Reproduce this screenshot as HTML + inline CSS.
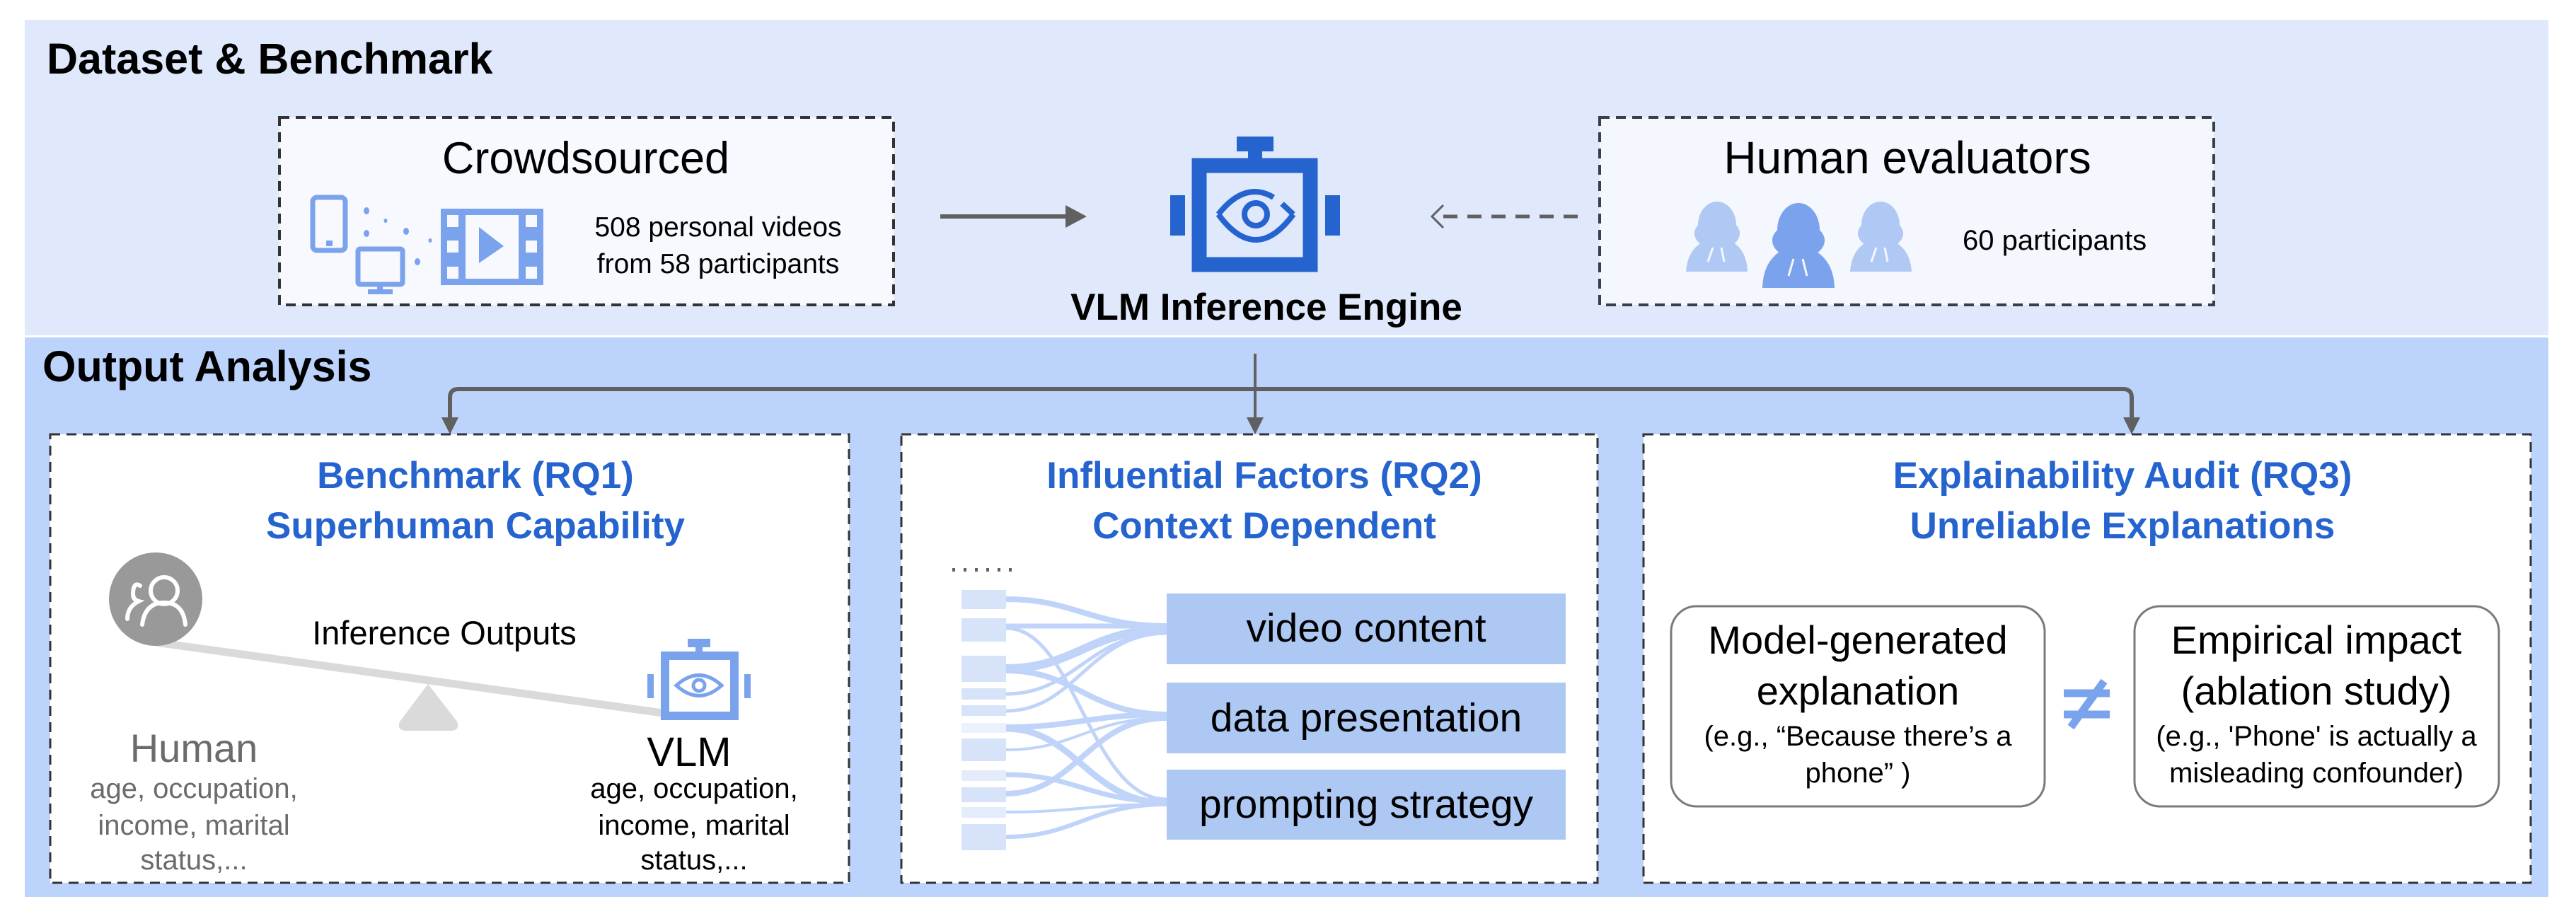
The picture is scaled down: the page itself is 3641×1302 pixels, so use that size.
<!DOCTYPE html>
<html><head><meta charset="utf-8"><style>
html,body{margin:0;padding:0;background:#fff;}
svg{display:block;}
text{font-family:"Liberation Sans","Noto Sans CJK SC",sans-serif;}
</style></head><body>
<svg width="3641" height="1302" viewBox="0 0 3641 1302" xmlns="http://www.w3.org/2000/svg">
<!-- bands -->
<rect x="35" y="28" width="3567" height="446" fill="#dfe9fb"/>
<rect x="35" y="477" width="3567" height="791" fill="#bcd3fb"/>
<text x="66" y="104" font-size="61" font-weight="bold" fill="#000">Dataset &amp; Benchmark</text>
<text x="60" y="539" font-size="61" font-weight="bold" fill="#000">Output Analysis</text>

<!-- crowdsourced box -->
<rect x="395" y="166" width="868" height="265" fill="#f7f9fe" stroke="#333" stroke-width="4" stroke-dasharray="14,9"/>
<text x="828" y="245" font-size="63" text-anchor="middle" fill="#000">Crowdsourced</text>
<text x="1015" y="334" font-size="39" text-anchor="middle" fill="#000">508 personal videos</text>
<text x="1015" y="386" font-size="39" text-anchor="middle" fill="#000">from 58 participants</text>
<!-- phone -->
<rect x="442" y="279" width="46" height="75" rx="6" fill="none" stroke="#7ba3ed" stroke-width="7"/>
<rect x="461" y="340" width="9" height="8" fill="#7ba3ed"/>
<!-- monitor -->
<rect x="506" y="352" width="63" height="50" rx="3" fill="none" stroke="#7ba3ed" stroke-width="7"/>
<rect x="533" y="402" width="8" height="8" fill="#7ba3ed"/>
<rect x="520" y="409" width="35" height="7" fill="#7ba3ed"/>
<g fill="#7ba3ed"><ellipse cx="518" cy="298" rx="4" ry="5"/><ellipse cx="545" cy="312" rx="2.5" ry="3"/><ellipse cx="518" cy="330" rx="4" ry="5"/><ellipse cx="574" cy="327" rx="4" ry="5"/><ellipse cx="608" cy="340" rx="2.5" ry="3"/><ellipse cx="590" cy="370" rx="4" ry="5"/></g>
<!-- film -->
<rect x="623" y="295" width="145" height="108" fill="#7ba3ed"/>
<rect x="658" y="304" width="75" height="90" fill="#f7f9fe"/>
<g fill="#f7f9fe"><rect x="632" y="304" width="16" height="17"/><rect x="632" y="340" width="16" height="17"/><rect x="632" y="377" width="16" height="17"/><rect x="743" y="304" width="16" height="17"/><rect x="743" y="340" width="16" height="17"/><rect x="743" y="377" width="16" height="17"/></g>
<polygon points="677,321 677,372 712,348" fill="#7ba3ed"/>

<!-- arrow crowdsourced->engine -->
<line x1="1329" y1="306" x2="1515" y2="306" stroke="#606060" stroke-width="6"/>
<polygon points="1506,290 1536,306 1506,322" fill="#606060"/>

<!-- engine icon -->
<rect x="1748" y="193" width="52" height="21" fill="#2563cf"/>
<rect x="1764" y="213" width="20" height="12" fill="#2563cf"/>
<rect x="1695" y="234" width="157" height="140" fill="none" stroke="#2563cf" stroke-width="21"/>
<rect x="1654" y="276" width="21" height="57" fill="#2563cf"/>
<rect x="1873" y="276" width="21" height="57" fill="#2563cf"/>
<g fill="none" stroke="#2563cf" stroke-width="8">
<path d="M1722,303 Q1760,255 1800,279"/>
<path d="M1812,288 L1828,303"/>
<path d="M1722,303 Q1775,375 1828,303"/>
<circle cx="1775" cy="303" r="16"/>
</g>
<text x="1790" y="452" font-size="53" font-weight="bold" text-anchor="middle" fill="#000">VLM Inference Engine</text>

<!-- dashed arrow -->
<line x1="2230" y1="306" x2="2030" y2="306" stroke="#606060" stroke-width="5" stroke-dasharray="20,14"/>
<polyline points="2040,290 2024,306 2040,322" fill="none" stroke="#606060" stroke-width="3"/>

<!-- human evaluators box -->
<rect x="2261" y="166" width="868" height="265" fill="#f4f7fd" stroke="#3a3f47" stroke-width="4" stroke-dasharray="14,9"/>
<text x="2696" y="245" font-size="64" text-anchor="middle" fill="#000">Human evaluators</text>
<text x="2774" y="353" font-size="40" fill="#000">60 participants</text>
<g>
<g fill="#b0c9f4"><ellipse cx="2427" cy="318" rx="27" ry="33"/><ellipse cx="2427" cy="330" rx="32" ry="22"/><path d="M2383,384 Q2385,355 2405,343 L2450,343 Q2469,355 2470,384 Z"/></g>
<g fill="#7ba3ed"><ellipse cx="2542" cy="325" rx="30" ry="38"/><ellipse cx="2542" cy="340" rx="37" ry="25"/><path d="M2491,407 Q2492,372 2515,356 L2568,356 Q2592,372 2593,407 Z"/></g>
<g fill="#b0c9f4"><ellipse cx="2658" cy="318" rx="27" ry="33"/><ellipse cx="2658" cy="330" rx="32" ry="22"/><path d="M2615,384 Q2617,355 2637,343 L2680,343 Q2700,355 2702,384 Z"/></g>
<g stroke="#f4f7fd" stroke-width="3" fill="none"><path d="M2421,350 L2414,370 M2433,350 L2437,370"/><path d="M2535,366 L2528,390 M2548,366 L2554,390"/><path d="M2652,350 L2645,370 M2664,350 L2668,370"/></g>
</g>

<!-- connectors -->
<path d="M1774,500 L1774,595" stroke="#606060" stroke-width="4" fill="none"/>
<polygon points="1762,590 1786,590 1774,614" fill="#606060"/>
<path d="M636,598 L636,562 Q636,550 648,550 L3001,550 Q3013,550 3013,562 L3013,598" stroke="#606060" stroke-width="6" fill="none"/>
<polygon points="624,590 648,590 636,614" fill="#606060"/>
<polygon points="3001,590 3025,590 3013,614" fill="#606060"/>

<!-- panels -->
<rect x="71" y="614" width="1129" height="634" fill="#fff" stroke="#333" stroke-width="3" stroke-dasharray="14,9"/>
<rect x="1274" y="614" width="984" height="634" fill="#fff" stroke="#333" stroke-width="3" stroke-dasharray="14,9"/>
<rect x="2323" y="614" width="1254" height="634" fill="#fff" stroke="#333" stroke-width="3" stroke-dasharray="14,9"/>

<g fill="#2563cf" font-weight="bold" font-size="53" text-anchor="middle">
<text x="672" y="690">Benchmark (RQ1)</text>
<text x="672" y="761">Superhuman Capability</text>
<text x="1787" y="690">Influential Factors (RQ2)</text>
<text x="1787" y="761">Context Dependent</text>
<text x="3000" y="690">Explainability Audit (RQ3)</text>
<text x="3000" y="761">Unreliable Explanations</text>
</g>

<!-- panel 1 -->
<line x1="220" y1="908" x2="937" y2="1008" stroke="#dadada" stroke-width="11"/>
<path d="M605,967 L565,1020 Q560,1033 575,1033 L636,1033 Q651,1033 646,1020 Z" fill="#dadada"/>
<circle cx="220" cy="847" r="66" fill="#999"/>
<g fill="none" stroke="#fff" stroke-width="6" stroke-linecap="round">
<circle cx="232" cy="835" r="19"/>
<path d="M201,883 Q205,852 232,852 Q259,852 262,883"/>
<path d="M198,828 Q188,822 188,840 Q188,848 196,850 Q180,858 180,875"/>
</g>
<text x="628" y="911" font-size="47" text-anchor="middle" fill="#000">Inference Outputs</text>
<rect x="972" y="903" width="32" height="12" fill="#7ba3ed"/>
<rect x="983" y="914" width="10" height="8" fill="#7ba3ed"/>
<rect x="940" y="927" width="98" height="85" fill="none" stroke="#7ba3ed" stroke-width="12"/>
<rect x="915" y="953" width="9" height="34" fill="#7ba3ed"/>
<rect x="1052" y="953" width="9" height="34" fill="#7ba3ed"/>
<path d="M956,969 Q988,940 1020,969 Q988,998 956,969 Z" fill="none" stroke="#7ba3ed" stroke-width="5"/>
<circle cx="988" cy="969" r="8" fill="none" stroke="#7ba3ed" stroke-width="5"/>
<text x="274" y="1077" font-size="56" text-anchor="middle" fill="#6b6b6b">Human</text>
<g font-size="40" text-anchor="middle" fill="#6b6b6b">
<text x="274" y="1128">age, occupation,</text>
<text x="274" y="1180">income, marital</text>
<text x="274" y="1229">status,...</text>
</g>
<text x="974" y="1083" font-size="58" text-anchor="middle" fill="#000">VLM</text>
<g font-size="40" text-anchor="middle" fill="#000">
<text x="981" y="1128">age, occupation,</text>
<text x="981" y="1180">income, marital</text>
<text x="981" y="1229">status,...</text>
</g>

<!-- panel 2 -->
<g fill="#606060"><rect x="1346" y="803" width="4" height="5"/><rect x="1362" y="803" width="4" height="5"/><rect x="1378" y="803" width="4" height="5"/><rect x="1394" y="803" width="4" height="5"/><rect x="1410" y="803" width="4" height="5"/><rect x="1426" y="803" width="4" height="5"/></g>
<g fill="none" stroke="#c0d4fa" stroke-linecap="butt">
<path d="M1422,847 C1520,847 1540,885 1649,885" stroke-width="8"/>
<path d="M1422,885 C1520,885 1540,885 1649,885" stroke-width="7"/>
<path d="M1422,888 C1520,888 1540,1130 1649,1130" stroke-width="5"/>
<path d="M1422,945 C1520,945 1540,890 1649,890" stroke-width="12"/>
<path d="M1422,948 C1520,948 1540,1010 1649,1010" stroke-width="8"/>
<path d="M1422,981 C1520,981 1540,895 1649,895" stroke-width="5"/>
<path d="M1422,1005 C1520,1005 1540,895 1649,895" stroke-width="5"/>
<path d="M1422,1028 C1520,1028 1540,1010 1649,1010" stroke-width="8"/>
<path d="M1422,1030 C1520,1030 1540,1135 1649,1135" stroke-width="9"/>
<path d="M1422,1060 C1520,1060 1540,1015 1649,1015" stroke-width="4"/>
<path d="M1422,1095 C1520,1095 1540,1133 1649,1133" stroke-width="7"/>
<path d="M1422,1122 C1520,1122 1540,1015 1649,1015" stroke-width="8"/>
<path d="M1422,1148 C1520,1148 1540,1137 1649,1137" stroke-width="4"/>
<path d="M1422,1183 C1520,1183 1540,1137 1649,1137" stroke-width="6"/>
</g>
<g>
<rect x="1359" y="834" width="63" height="27" fill="#d7e3f9"/>
<rect x="1359" y="874" width="63" height="33" fill="#d7e3f9"/>
<rect x="1359" y="927" width="63" height="37" fill="#d7e3f9"/>
<rect x="1359" y="973" width="63" height="16" fill="#d7e3f9"/>
<rect x="1359" y="997" width="63" height="15" fill="#d7e3f9"/>
<rect x="1359" y="1022" width="63" height="14" fill="#ebf1fd"/>
<rect x="1359" y="1044" width="63" height="32" fill="#d7e3f9"/>
<rect x="1359" y="1089" width="63" height="15" fill="#e4ecfb"/>
<rect x="1359" y="1113" width="63" height="21" fill="#d7e3f9"/>
<rect x="1359" y="1141" width="63" height="15" fill="#e4ecfb"/>
<rect x="1359" y="1165" width="63" height="37" fill="#d7e3f9"/>
</g>
<rect x="1649" y="839" width="564" height="100" fill="#aec8f4"/>
<rect x="1649" y="965" width="564" height="100" fill="#aec8f4"/>
<rect x="1649" y="1088" width="564" height="99" fill="#aec8f4"/>
<g font-size="57" text-anchor="middle" fill="#000">
<text x="1931" y="907">video content</text>
<text x="1931" y="1034">data presentation</text>
<text x="1931" y="1156">prompting strategy</text>
</g>

<!-- panel 3 -->
<rect x="2362" y="857" width="528" height="283" rx="36" fill="#fff" stroke="#7a7a7a" stroke-width="3"/>
<rect x="3017" y="857" width="515" height="283" rx="36" fill="#fff" stroke="#7a7a7a" stroke-width="3"/>
<g text-anchor="middle" fill="#000">
<text x="2626" y="924" font-size="56">Model-generated</text>
<text x="2626" y="996" font-size="56">explanation</text>
<text x="2626" y="1054" font-size="40">(e.g., “Because there’s a</text>
<text x="2626" y="1106" font-size="40">phone” )</text>
<text x="3274" y="924" font-size="56">Empirical impact</text>
<text x="3274" y="996" font-size="56">(ablation study)</text>
<text x="3274" y="1054" font-size="40">(e.g., 'Phone' is actually a</text>
<text x="3274" y="1106" font-size="40">misleading confounder)</text>
</g>
<g stroke="#7aa3ee" stroke-width="11">
<line x1="2917" y1="980" x2="2982" y2="980"/>
<line x1="2917" y1="1010" x2="2982" y2="1010"/>
<line x1="2974" y1="963" x2="2927" y2="1028"/>
</g>
</svg>
</body></html>
